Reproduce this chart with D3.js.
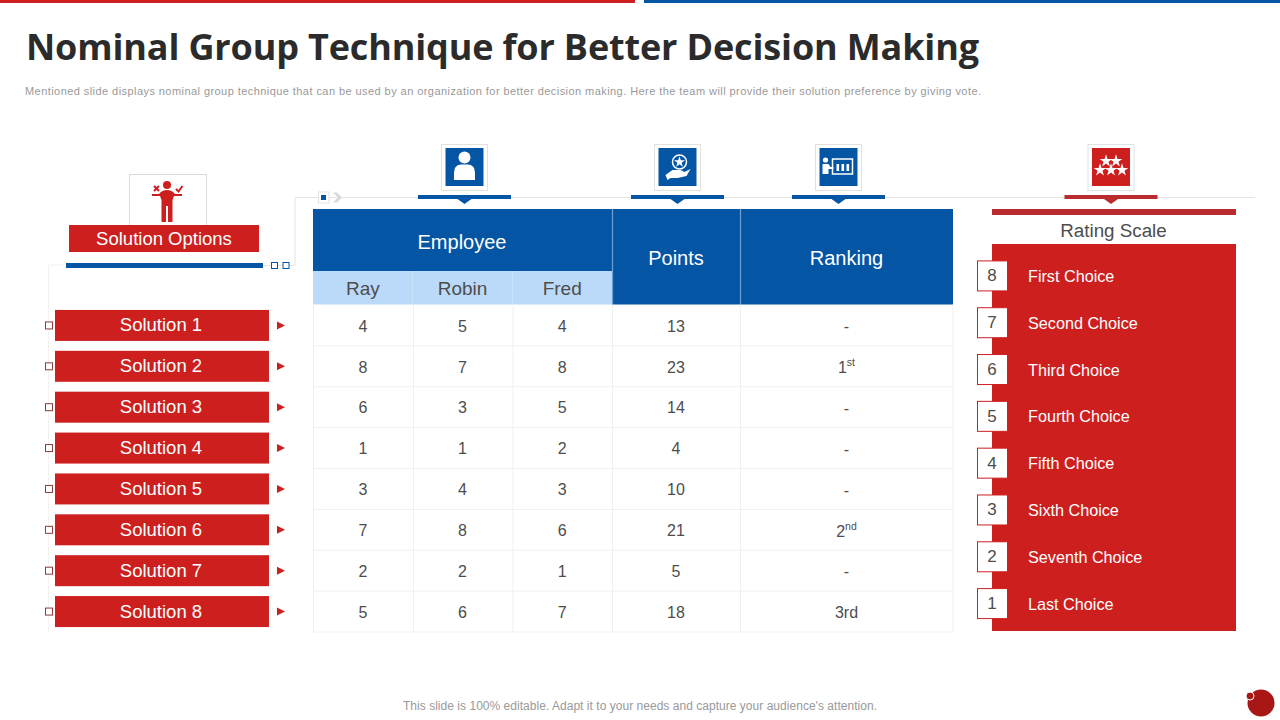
<!DOCTYPE html>
<html><head><meta charset="utf-8">
<script src="https://cdn.jsdelivr.net/npm/d3@7"></script>
<style>html,body{margin:0;padding:0;background:#fff;overflow:hidden}svg{display:block}text{font-family:"Liberation Sans",Arial,sans-serif}</style>
</head><body><svg id="c" width="1280" height="720"></svg>
<script>
const titleText = "Nominal Group Technique for Better Decision Making";
const subtitleText = "Mentioned slide displays nominal group technique that can be used by an organization for better decision making. Here the team will provide their solution preference by giving vote.";
const footerText = "This slide is 100% editable. Adapt it to your needs and capture your audience's attention.";
const solutions = ["Solution 1","Solution 2","Solution 3","Solution 4","Solution 5","Solution 6","Solution 7","Solution 8"];
const employees = ["Ray","Robin","Fred"];
const ray = [4,8,6,1,3,7,2,5];
const robin = [5,7,3,1,4,8,2,6];
const fred = [4,8,5,2,3,6,1,7];
const points = [13,23,14,4,10,21,5,18];
const rankBase = ["-","1","-","-","-","2","-","3rd"];
const rankSup = ["","st","","","","nd","",""];
const ratingValues = [8,7,6,5,4,3,2,1];
const ratingLabels = ["First Choice","Second Choice","Third Choice","Fourth Choice","Fifth Choice","Sixth Choice","Seventh Choice","Last Choice"];

const RED="#CE1F1F", BLUE="#0555A5", LBLUE="#BBDAFA", DRED="#B92B2F", INK="#4D4D4D", RULE="#E4E4E4", CELL="#F0F0F0";
const svg=d3.select("#c");
const rect=(p,x,y,w,h,fill,stroke,sw)=>p.append("rect").attr("x",x).attr("y",y).attr("width",w).attr("height",h).attr("fill",fill||"none").attr("stroke",stroke||null).attr("stroke-width",sw||null);
const line=(x1,y1,x2,y2,c,w)=>svg.append("line").attr("x1",x1).attr("y1",y1).attr("x2",x2).attr("y2",y2).attr("stroke",c).attr("stroke-width",w||1);
const text=(p,s,x,y,size,fill,anchor)=>p.append("text").attr("x",x).attr("y",y).attr("font-size",size).attr("fill",fill).attr("text-anchor",anchor||"middle").attr("dominant-baseline","central").text(s);

// top strip and headings
rect(svg,0,0,635,3,RED); rect(svg,644,0,636,3,BLUE);
svg.append("text").attr("x",26).attr("y",60).attr("font-size",36).attr("font-weight",700).attr("fill","#2B2B2B").style("font-family","'Open Sans'").attr("textLength",953).attr("lengthAdjust","spacing").text(titleText);
svg.append("text").attr("x",25).attr("y",95).attr("font-size",11).attr("fill","#999999").attr("textLength",956).attr("lengthAdjust","spacing").text(subtitleText);
svg.append("text").attr("x",640).attr("y",709.5).attr("font-size",12).attr("fill","#999999").attr("text-anchor","middle").attr("textLength",474).attr("lengthAdjust","spacing").text(footerText);
svg.append("circle").attr("cx",1261).attr("cy",703).attr("r",13.5).attr("fill","#A81616");
svg.append("circle").attr("cx",1250).attr("cy",696).attr("r",4).attr("fill","#A81616").attr("stroke","#fff").attr("stroke-width",1);

// scales
const rowY=d3.scaleBand().domain(solutions).range([305,632]);
const ratingY=d3.scaleBand().domain(ratingValues).range([252.5,627]);
const empX=d3.scaleBand().domain(employees).range([313,612]);
const pointsCol={x0:612,x1:740}, rankCol={x0:740,x1:953};

// connector lines
line(295,197.5,1255,197.5,RULE);
line(295,197.5,295,265.5,RULE);
line(263,265.5,295,265.5,RULE);
svg.append("path").attr("d","M48.5 632V265H263").attr("fill","none").attr("stroke","#F2F2F2");

// left column header
rect(svg,129.5,174.5,77,51,"#fff","#DADADA");
const fig=svg.append("g").attr("transform","translate(167,197)").attr("fill",RED);
fig.append("circle").attr("cx",0).attr("cy",-12).attr("r",4);
fig.append("path").attr("d","M-15 -3H-8Q-5 -7 0 -7T8 -3H15V-1H7L5.5 3V25H1V9H-1V25H-5.5V3L-7 -1H-15Z");
fig.append("path").attr("d","M-13 -11L-8 -6M-8 -11L-13 -6").attr("stroke",RED).attr("stroke-width",2);
fig.append("path").attr("d","M9 -8L11.5 -5.5L15.5 -11").attr("stroke",RED).attr("stroke-width",2).attr("fill","none");
rect(svg,69,225,190,27,RED);
text(svg,"Solution Options",164,238,18.5,"#fff");
rect(svg,66,263,197,5,BLUE);
[274.5,286].forEach(x=>rect(svg,x-3,262.5,6,6,"#fff",BLUE,1));

// solutions list
const sol=svg.append("g").selectAll("g").data(solutions).join("g").attr("transform",d=>`translate(0,${rowY(d)+rowY.bandwidth()/2})`);
sol.append("rect").attr("x",55).attr("y",-15.5).attr("width",214).attr("height",31).attr("fill",RED);
sol.append("rect").attr("x",45.5).attr("y",-3.5).attr("width",7).attr("height",7).attr("fill","#fff").attr("stroke","#8C3A3A");
sol.append("path").attr("d","M277 -4L285 0L277 4Z").attr("fill",RED);
sol.append("text").attr("x",161).attr("y",-0.5).attr("text-anchor","middle").attr("dominant-baseline","central").attr("font-size",18.5).attr("fill","#fff").text(d=>d);

// small marker on the rule
rect(svg,318.5,192,10.5,11,"#fff","#E2E2E2");
rect(svg,321,195,5,5,BLUE);
svg.append("path").attr("d","M333 192.5H337L342 197.5L337 202.5H333L338 197.5Z").attr("fill","#D9D9D9");

// column icons
function iconBox(cx,fill,border){
  rect(svg,cx-23,144.5,46,46,"#fff",border);
  rect(svg,cx-19,148,38,38,fill);
  return svg.append("g").attr("transform",`translate(${cx},167)`);
}
function pointer(cx,c){
  rect(svg,cx-46.5,195,93,4,c);
  svg.append("path").attr("d",`M${cx-7} 199H${cx+7}L${cx} 204Z`).attr("fill",c);
}
const i1=iconBox(464.5,BLUE,"#E4E0DC");
i1.append("circle").attr("cy",-9.5).attr("r",6).attr("fill","#fff");
i1.append("path").attr("d","M-10.5 13V6Q-10.5 -2 -4 -2.5H4Q10.5 -2 10.5 6V13Z").attr("fill","#fff");
pointer(464.5,BLUE);
const i2=iconBox(677.5,BLUE,"#E4E0DC");
i2.append("circle").attr("cx",2).attr("cy",-5).attr("r",7).attr("fill","none").attr("stroke","#fff").attr("stroke-width",1.5);
i2.append("path").attr("d",d3.symbol(d3.symbolStar,38)()).attr("transform","translate(2,-5)").attr("fill","#fff");
i2.append("path").attr("d","M-12 8L-5 3H3L7 5L13 2L9 9L0 11L-7 11L-10 13Z").attr("fill","#fff");
pointer(677.5,BLUE);
const i3=iconBox(838.5,BLUE,"#E4E0DC");
i3.append("circle").attr("cx",-13).attr("cy",-7).attr("r",2.6).attr("fill","#fff");
i3.append("path").attr("d","M-16 -3H-10L-8 0H-5V2H-10V7H-16Z").attr("fill","#fff");
i3.append("rect").attr("x",-6).attr("y",-8).attr("width",20).attr("height",15).attr("fill","none").attr("stroke","#fff").attr("stroke-width",1.5);
[-2,3,8].forEach(x=>i3.append("rect").attr("x",x).attr("y",-3).attr("width",2.6).attr("height",7).attr("fill","#fff"));
pointer(838.5,BLUE);
const i4=iconBox(1111,RED,"#DDE3EA");
[[-5,-6],[5,-6],[-11,3],[0,3],[11,3]].forEach(([x,y])=>i4.append("path").attr("d",d3.symbol(d3.symbolStar,50)()).attr("transform",`translate(${x},${y})`).attr("fill","#fff"));
pointer(1111,DRED);

// table header
rect(svg,313,209,299,62,BLUE);
text(svg,"Employee",462,241.5,20,"#fff");
const sub=svg.append("g").selectAll("g").data(employees).join("g");
sub.append("rect").attr("x",d=>empX(d)).attr("y",271).attr("width",empX.bandwidth()).attr("height",33.5).attr("fill",LBLUE);
sub.append("text").attr("x",d=>empX(d)+empX.bandwidth()/2).attr("y",288).attr("text-anchor","middle").attr("dominant-baseline","central").attr("font-size",19).attr("fill",INK).text(d=>d);
[pointsCol,rankCol].forEach(c=>rect(svg,c.x0,209,c.x1-c.x0,95.5,BLUE));
text(svg,"Points",676,257.5,20,"#fff");
text(svg,"Ranking",846.5,257.5,20,"#fff");
line(612.5,209,612.5,304.5,"#6E9FD6",1.2);
line(740.5,209,740.5,304.5,"#6E9FD6",1.2);
rowY.domain().forEach((s,i)=>line(313,rowY(s)+rowY.bandwidth(),953,rowY(s)+rowY.bandwidth(),CELL));
[313.5,413.5,513,612.5,740.5,953].forEach(x=>line(x,304.5,x,632,CELL));

// table body
const rows=svg.append("g").selectAll("g").data(solutions).join("g").attr("transform",d=>`translate(0,${rowY(d)+rowY.bandwidth()/2+0.7})`);
const cell=(sel,x,f)=>sel.append("text").attr("x",x).attr("y",0).attr("text-anchor","middle").attr("dominant-baseline","central").attr("font-size",16).attr("fill",INK).text((d,i)=>f[i]);
cell(rows,empX("Ray")+empX.bandwidth()/2,ray);
cell(rows,empX("Robin")+empX.bandwidth()/2,robin);
cell(rows,empX("Fred")+empX.bandwidth()/2,fred);
cell(rows,(pointsCol.x0+pointsCol.x1)/2,points);
const rk=rows.append("text").attr("x",(rankCol.x0+rankCol.x1)/2).attr("y",0).attr("text-anchor","middle").attr("dominant-baseline","central").attr("font-size",16).attr("fill",INK);
rk.append("tspan").text((d,i)=>rankBase[i]);
rk.append("tspan").attr("dy",-5).attr("font-size",10.5).text((d,i)=>rankSup[i]);

// rating scale
rect(svg,992,209,244,6,DRED);
text(svg,"Rating Scale",1113.5,230.5,18.8,INK);
rect(svg,992,244,244,387,RED);
const rt=svg.append("g").selectAll("g").data(ratingValues).join("g").attr("transform",d=>`translate(0,${ratingY(d)+ratingY.bandwidth()/2})`);
rt.append("rect").attr("x",977.5).attr("y",-15).attr("width",30).attr("height",30).attr("fill","#fff").attr("stroke",RED);
rt.append("text").attr("x",992).attr("y",0).attr("text-anchor","middle").attr("dominant-baseline","central").attr("font-size",17).attr("fill",INK).text(d=>d);
rt.append("text").attr("x",1028).attr("y",0).attr("dominant-baseline","central").attr("font-size",16.2).attr("fill","#fff").text((d,i)=>ratingLabels[i]);
</script></body></html>
